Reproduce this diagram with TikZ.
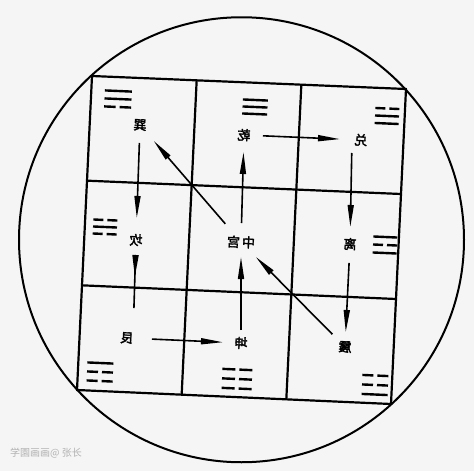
\documentclass[tikz,border=0pt]{standalone}
\usepackage{fontspec}
\usepackage{graphicx}
\newfontfamily\cjk{Noto Sans CJK SC}
\newfontfamily\cjkb{Noto Sans CJK SC}[FakeBold=2.5]
\usetikzlibrary{arrows.meta,calc}
\tikzset{
  gridline/.style={line width=2.2pt, line join=round},
  ring/.style={line width=2pt},
  yao/.style={line width=2.4pt},
  conn/.style={line width=1.6pt},
  arr/.style={conn, -{Triangle[length=22pt,width=6pt]}},
  gualabel/.style={font=\cjkb\fontsize{13}{13}\selectfont, inner sep=0pt, rotate=-2.5},
}
\newcommand\gualine[3]{%
  \ifnum#3=1 \draw[yao] (-#2,#1) -- (#2,#1);%
  \else \draw[yao] (-#2,#1) -- (-2,#1); \draw[yao] (2,#1) -- (#2,#1);\fi}
\newcommand\gua[7]{%
  \begin{scope}[shift={(#1,#2)}, rotate=-2.5]
    \gualine{-#3}{#4}{#5}\gualine{0}{#4}{#6}\gualine{#3}{#4}{#7}
  \end{scope}}
\begin{document}
\begin{tikzpicture}[x=1pt,y=-1pt]
\fill[black!4] (0,0) rectangle (474,471);
\useasboundingbox (0,0) rectangle (474,471);
% outer circle
\draw[ring] (241.5,239.75) circle[radius=222.5];
% square grid
\coordinate (A) at (92,76);
\coordinate (B) at (406,89);
\coordinate (C) at (391,404);
\coordinate (D) at (77,390);
\draw[gridline] (A) -- (B) -- (C) -- (D) -- cycle;
\draw[gridline] ($(A)!1/3!(B)$) -- ($(D)!1/3!(C)$);
\draw[gridline] ($(A)!2/3!(B)$) -- ($(D)!2/3!(C)$);
\draw[gridline] ($(A)!1/3!(D)$) -- ($(B)!1/3!(C)$);
\draw[gridline] ($(A)!2/3!(D)$) -- ($(B)!2/3!(C)$);
% trigrams (top, middle, bottom line; 1 = solid)
\gua{118}{99}{8}{13.5}{1}{1}{0}
\gua{255}{107}{7}{12.5}{1}{1}{1}
\gua{387}{116}{7.5}{12}{0}{1}{1}
\gua{105}{227}{7}{12}{0}{1}{0}
\gua{385}{245}{8}{12}{1}{0}{1}
\gua{100}{372}{9}{13}{1}{0}{0}
\gua{237}{379}{9.5}{15}{0}{0}{0}
\gua{375}{385}{9.5}{13}{0}{0}{1}
% labels (mirrored as in the scan)
\node[gualabel] (xun) at (140,125) {\reflectbox{巽}};
\node[gualabel] (qian) at (244,135) {\reflectbox{乾}};
\node[gualabel] (dui) at (361,140) {\reflectbox{兑}};
\node[gualabel] (kan) at (136,240) {\reflectbox{坎}};
\node[gualabel] (zhong) at (241,242) {\reflectbox{中\hspace{2pt}宫}};
\node[gualabel] (li) at (350,244) {\reflectbox{离}};
\node[gualabel] (gen) at (127,338) {\reflectbox{艮}};
\node[gualabel] (kun) at (241,343) {\reflectbox{坤}};
\node[gualabel] (zhen) at (345,347) {\reflectbox{震}};
% connectors
\draw[arr, shorten <=19pt, shorten >=17pt] (zhong.center) -- (qian.center);
\draw[arr, shorten <=19pt, shorten >=21pt] (qian.center) -- (dui.center);
\draw[arr, shorten <=13pt, shorten >=17pt] ([xshift=-9pt]dui.center) -- (li.center);
\draw[arr, shorten <=19pt, shorten >=15pt] (li.center) -- (zhen.center);
\draw[arr, shorten <=18pt, shorten >=21pt] (zhen.center) -- (zhong.center);
\draw[arr, shorten <=24pt, shorten >=21pt] (zhong.center) -- (xun.center);
\draw[arr, shorten <=18pt, shorten >=22pt] (xun.center) -- (kan.center);
\draw[conn, shorten <=15pt, shorten >=30pt] (kan.center) -- ([xshift=6pt]gen.center);
\draw[arr, shorten <=15pt, shorten >=61pt] (kan.center) -- ([xshift=6pt]gen.center);
\draw[arr, shorten <=25pt, shorten >=18pt] (gen.center) -- (kun.center);
\draw[arr, shorten <=13pt, shorten >=15pt] (kun.center) -- (zhong.center);
% watermark
\node[font=\cjk\fontsize{10}{10}\selectfont, text=black!30, anchor=west, inner sep=0pt] (wm) at (10,453) {学園画画@ 张长};
\end{tikzpicture}
\end{document}
